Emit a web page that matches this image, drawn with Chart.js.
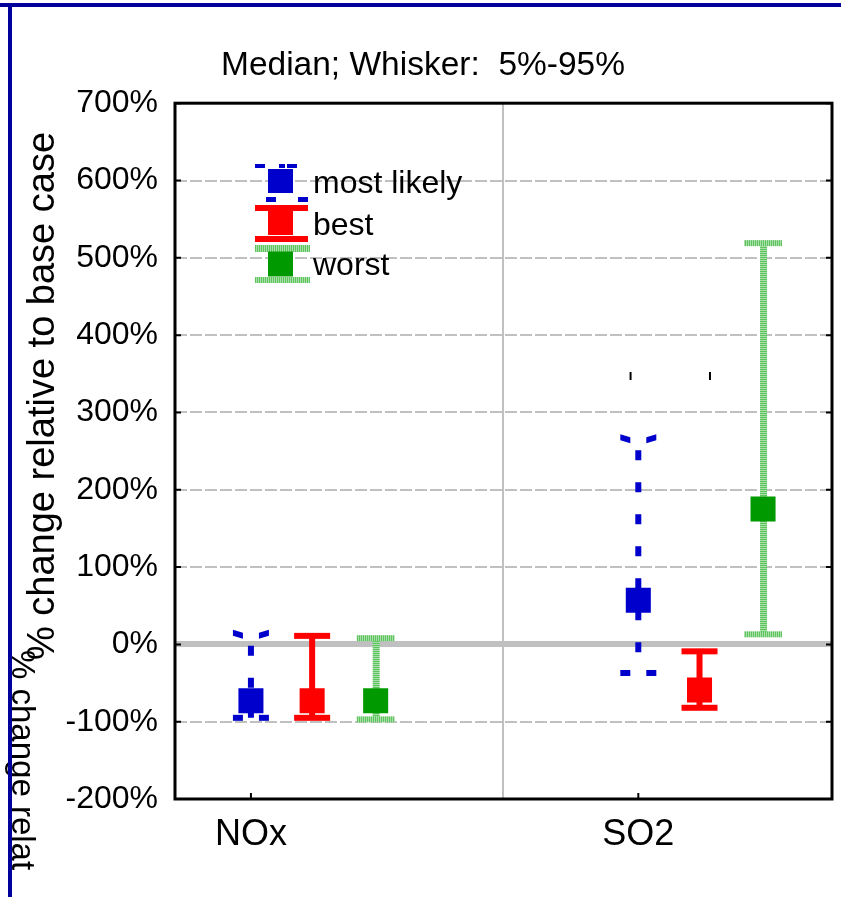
<!DOCTYPE html>
<html>
<head>
<meta charset="UTF-8">
<title>Median; Whisker: 5%-95%</title>
<script src="https://cdn.jsdelivr.net/npm/chart.js"></script>
<style>
  html, body { margin: 0; padding: 0; background: #fff; }
  #wrap { position: relative; width: 841px; height: 897px; }
</style>
</head>
<body>
<div id="wrap"><canvas id="chart" width="841" height="897"></canvas></div>
<script>
// data (values in %)
var categories = ['NOx', 'SO2'];
var seriesNames = ['most likely', 'best', 'worst'];
var likelyMedian = [-73, 57];
var likelyLow = [-95, -37];
var likelyHigh = [11, 264];
var bestMedian = [-73, -59];
var bestLow = [-95, -82];
var bestHigh = [11, -9];
var worstMedian = [-73, 175];
var worstLow = [-97, 13];
var worstHigh = [8, 519];
var strayX = [1.98, 2.185];
var strayY = [347, 347];
var yMin = -200, yMax = 700, yStep = 100;

var colors = ['#0000cc', '#ff0000', '#009900'];
var offsets = [0, 0.158, 0.322];
var medians = [likelyMedian, bestMedian, worstMedian];
var lows = [likelyLow, bestLow, worstLow];
var highs = [likelyHigh, bestHigh, worstHigh];
var FONT = "'Liberation Sans', Arial, sans-serif";

Chart.defaults.font.family = FONT;
Chart.defaults.color = '#000';

function stripes(vertical) {
    var c = document.createElement('canvas');
    c.width = 2; c.height = 2;
    var g = c.getContext('2d');
    g.fillStyle = '#5ec45e';
    g.fillRect(0, 0, 2, 2);
    g.fillStyle = '#a8dea8';
    if (vertical) g.fillRect(0, 0, 1, 2); else g.fillRect(0, 0, 2, 1);
    return c;
}

function pieces(ctx, y, h, parts) {
    parts.forEach(function (p) { ctx.fillRect(p[0], y, p[1] - p[0], h); });
}

function drawWhisker(ctx, kind, x, top, bot) {
    ctx.save();
    if (kind === 0) {
        ctx.strokeStyle = colors[0];
        ctx.lineWidth = 6;
        ctx.setLineDash([10, 22]);
        ctx.lineDashOffset = 22;
        ctx.beginPath();
        ctx.moveTo(x, top);
        ctx.lineTo(x, bot);
        ctx.stroke();
        ctx.setLineDash([]);
        // slanted top cap pieces
        ctx.fillStyle = colors[0];
        ctx.beginPath();
        ctx.moveTo(x - 18, top - 6); ctx.lineTo(x - 8, top - 3);
        ctx.lineTo(x - 8, top + 3); ctx.lineTo(x - 18, top); ctx.closePath();
        ctx.moveTo(x + 18, top - 6); ctx.lineTo(x + 8, top - 3);
        ctx.lineTo(x + 8, top + 3); ctx.lineTo(x + 18, top); ctx.closePath();
        ctx.fill();
        pieces(ctx, bot - 3, 6, [[x - 18, x - 8], [x + 8, x + 18]]);
    } else if (kind === 1) {
        ctx.fillStyle = colors[1];
        ctx.fillRect(x - 3, top, 6, bot - top);
        ctx.fillRect(x - 18, top - 3, 36, 6);
        ctx.fillRect(x - 18, bot - 3, 36, 6);
    } else {
        ctx.fillStyle = ctx.createPattern(stripes(false), 'repeat');
        ctx.fillRect(x - 3, top, 7, bot - top);
        ctx.fillStyle = ctx.createPattern(stripes(true), 'repeat');
        ctx.fillRect(x - 19, top - 3, 38, 6);
        ctx.fillRect(x - 19, bot - 3, 38, 6);
    }
    ctx.restore();
}

var whiskers = {
    id: 'whiskers',
    beforeDatasetsDraw: function (chart) {
        var ctx = chart.ctx, xs = chart.scales.x, ys = chart.scales.y;
        for (var i = 0; i < 3; i++) {
            for (var j = 0; j < categories.length; j++) {
                var x = xs.getPixelForValue(j + 1 + offsets[i]);
                drawWhisker(ctx, i, x, ys.getPixelForValue(highs[i][j]), ys.getPixelForValue(lows[i][j]));
            }
        }
    },
    afterDatasetsDraw: function (chart) {
        var ctx = chart.ctx, a = chart.chartArea, ys = chart.scales.y, xs = chart.scales.x;
        ctx.save();
        ctx.strokeStyle = '#000';
        ctx.lineWidth = 2;
        ys.ticks.forEach(function (t) {
            var y = ys.getPixelForValue(t.value);
            ctx.beginPath();
            ctx.moveTo(a.left, y); ctx.lineTo(a.left + 6, y);
            ctx.moveTo(a.right - 6, y); ctx.lineTo(a.right, y);
            ctx.stroke();
        });
        categories.forEach(function (c, j) {
            var x = xs.getPixelForValue(j + 1);
            ctx.beginPath();
            ctx.moveTo(x, a.bottom); ctx.lineTo(x, a.bottom - 6);
            ctx.stroke();
        });
        ctx.lineWidth = 3;
        ctx.strokeRect(a.left, a.top, a.right - a.left, a.bottom - a.top);
        ctx.restore();
    },
    afterDraw: function (chart) {
        var ctx = chart.ctx;
        ctx.save();
        // legend
        var lx = 280.5, ly = [181, 223, 263.5];
        for (var i = 0; i < 3; i++) {
            var cy = ly[i];
            if (i === 0) {
                ctx.fillStyle = colors[0];
                ctx.fillRect(lx - 12.5, cy - 12, 25, 24);
                pieces(ctx, cy - 17, 4, [[lx - 25.5, lx - 15.5], [lx - 1.5, lx + 4.5], [lx + 6.5, lx + 16.5]]);
                pieces(ctx, cy + 16, 5, [[lx - 14.5, lx - 4.5], [lx + 17.5, lx + 27.5]]);
            } else if (i === 1) {
                ctx.fillStyle = colors[1];
                ctx.fillRect(lx - 25.5, cy - 18, 53, 6);
                ctx.fillRect(lx - 12.5, cy - 12, 25, 24);
                ctx.fillRect(lx - 25.5, cy + 13, 53, 6);
            } else {
                ctx.fillStyle = ctx.createPattern(stripes(true), 'repeat');
                ctx.fillRect(lx - 25.5, cy - 18.5, 55, 7);
                ctx.fillRect(lx - 25.5, cy + 13.5, 55, 6);
                ctx.fillStyle = colors[2];
                ctx.fillRect(lx - 12.5, cy - 12, 25, 25);
            }
            ctx.fillStyle = '#000';
            ctx.font = '32px ' + FONT;
            ctx.textAlign = 'left';
            ctx.textBaseline = 'middle';
            ctx.fillText(seriesNames[i], 313, cy + 3);
        }
        // y axis title
        ctx.fillStyle = '#000';
        ctx.font = '38px ' + FONT;
        ctx.textBaseline = 'alphabetic';
        ctx.save();
        ctx.translate(54, 396);
        ctx.rotate(-Math.PI / 2);
        ctx.textAlign = 'center';
        ctx.fillText('% change relative to base case', 0, 0);
        ctx.restore();
        // stray clipped copy of the title
        ctx.save();
        ctx.font = '33px ' + FONT;
        ctx.translate(12, 650);
        ctx.rotate(Math.PI / 2);
        ctx.textAlign = 'left';
        ctx.fillText('% change relat', 0, 0);
        ctx.restore();
        // blue frame
        ctx.fillStyle = '#00009c';
        ctx.fillRect(0, 3, 841, 4);
        ctx.fillRect(8, 3, 4, 894);
        ctx.restore();
    }
};

var datasets = [];
for (var i = 0; i < 3; i++) {
    datasets.push({
        label: seriesNames[i],
        data: medians[i].map(function (v, j) { return { x: j + 1 + offsets[i], y: v }; }),
        pointStyle: 'rect',
        pointRadius: 17.7,
        backgroundColor: colors[i],
        borderWidth: 0
    });
}
datasets.push({
    label: 'marks',
    data: strayX.map(function (x, k) { return { x: x, y: strayY[k] }; }),
    pointStyle: 'line',
    rotation: 90,
    pointRadius: 4,
    borderColor: '#000',
    borderWidth: 2
});

new Chart(document.getElementById('chart'), {
    type: 'scatter',
    data: { datasets: datasets },
    options: {
        responsive: false,
        animation: false,
        events: [],
        layout: { autoPadding: false, padding: { left: 14, right: 9, top: 0, bottom: 0 } },
        plugins: {
            legend: { display: false },
            tooltip: { enabled: false },
            title: {
                display: true,
                text: 'Median; Whisker:  5%-95%',
                color: '#000',
                font: { size: 33.5, weight: 'normal' },
                padding: { top: 46, bottom: 17 }
            }
        },
        scales: {
            x: {
                type: 'linear',
                min: 0.804,
                max: 2.5,
                afterFit: function (s) { s.height = 98; },
                afterBuildTicks: function (s) { s.ticks = [{ value: 1 }, { value: 1.65 }, { value: 2 }]; },
                ticks: {
                    autoSkip: false,
                    maxRotation: 0,
                    padding: 14,
                    font: { size: 36 },
                    callback: function (v) { return v === 1 || v === 2 ? categories[v - 1] : ''; }
                },
                grid: {
                    drawTicks: false,
                    lineWidth: 2,
                    color: function (c) { return c.tick && c.tick.value === 1.65 ? '#c0c0c0' : 'rgba(0,0,0,0)'; }
                },
                border: { display: false }
            },
            y: {
                min: yMin,
                max: yMax,
                afterFit: function (s) { s.width = 161; },
                ticks: {
                    stepSize: yStep,
                    padding: 17,
                    font: { size: 32 },
                    callback: function (v) { return v + '%'; }
                },
                grid: {
                    drawTicks: false,
                    color: '#c0c0c0',
                    lineWidth: function (c) { return c.tick && c.tick.value === 0 ? 6 : 2; }
                },
                border: {
                    display: false,
                    dash: function (c) { return c.tick && c.tick.value !== 0 ? [12, 3] : []; }
                }
            }
        }
    },
    plugins: [whiskers]
});
</script>
</body>
</html>
